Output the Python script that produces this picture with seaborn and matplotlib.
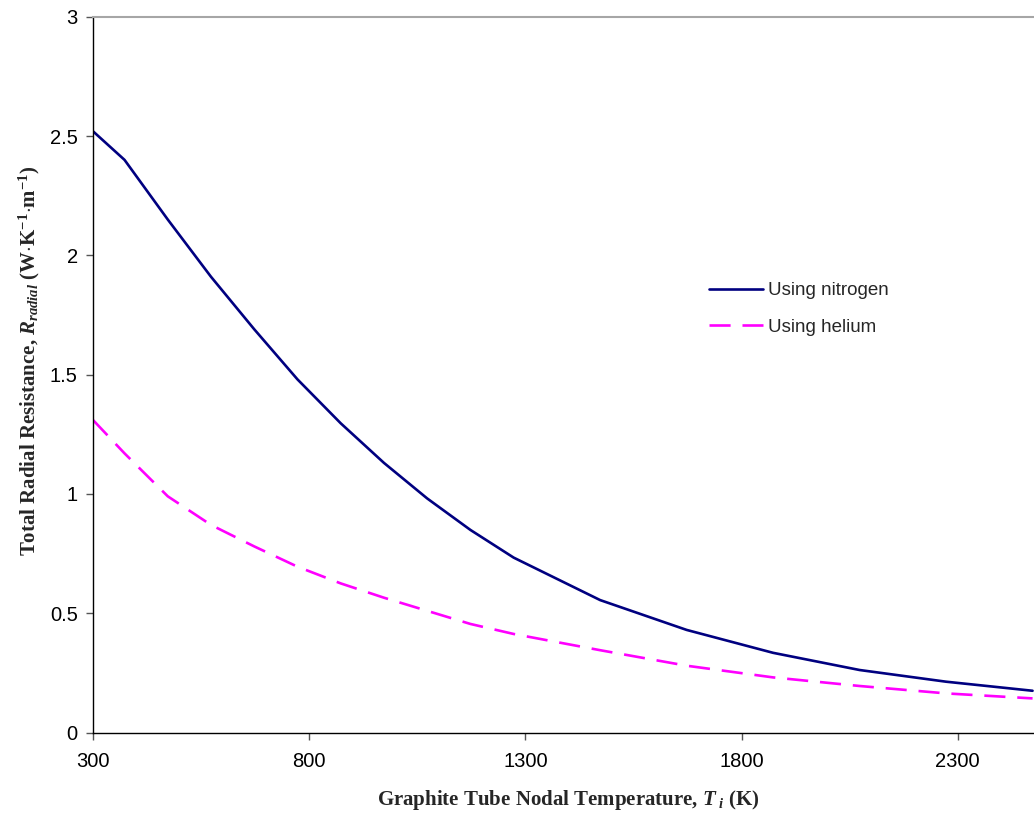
import matplotlib
matplotlib.use("Agg")
import matplotlib.pyplot as plt
import seaborn as sns
import pandas as pd

# Nodal temperatures (K) and total radial resistance for each purge gas
temperature_k = [300, 373, 473, 573, 673, 773, 873, 973, 1073, 1173, 1273,
                 1473, 1673, 1873, 2073, 2273, 2473]
r_nitrogen = [2.52, 2.40, 2.15, 1.91, 1.69, 1.48, 1.296, 1.13, 0.981, 0.849,
              0.733, 0.555, 0.43, 0.334, 0.262, 0.213, 0.175]
r_helium = [1.31, 1.17, 0.99, 0.87, 0.78, 0.695, 0.625, 0.565, 0.51, 0.455,
            0.413, 0.345, 0.28, 0.231, 0.195, 0.164, 0.143]

series_labels = ["Using nitrogen", "Using helium"]
x_ticks = [300, 800, 1300, 1800, 2300]
y_ticks = [0, 0.5, 1, 1.5, 2, 2.5, 3]
y_tick_labels = ["0", "0.5", "1", "1.5", "2", "2.5", "3"]

sns.set_theme(style="white")
plt.rcParams["font.family"] = ["Liberation Sans", "DejaVu Sans"]
plt.rcParams["mathtext.fontset"] = "custom"
plt.rcParams["mathtext.rm"] = "Liberation Serif:bold"
plt.rcParams["mathtext.it"] = "Liberation Serif:bold:italic"
plt.rcParams["mathtext.bf"] = "Liberation Serif:bold"

df = pd.DataFrame({
    "T": temperature_k * 2,
    "R": r_nitrogen + r_helium,
    "gas": [series_labels[0]] * len(temperature_k) + [series_labels[1]] * len(temperature_k),
})

fig = plt.figure(figsize=(10.34, 8.15), dpi=100)
ax = fig.add_axes([0.0899, 0.1012, 0.920, 0.8783])

sns.lineplot(data=df, x="T", y="R", hue="gas", style="gas",
             palette={series_labels[0]: "#000080", series_labels[1]: "#FF00FF"},
             dashes={series_labels[0]: "", series_labels[1]: (8, 4.5)},
             linewidth=1.9, ax=ax, legend=False)

ax.set_xlim(300, 2500)
ax.set_ylim(0, 3)
ax.set_xticks(x_ticks)
ax.set_yticks(y_ticks)
ax.set_yticklabels(y_tick_labels)

for side in ("left", "bottom"):
    ax.spines[side].set_color("black")
    ax.spines[side].set_linewidth(1.0)
for side in ("top", "right"):
    ax.spines[side].set_color("#A6A6A6")
    ax.spines[side].set_linewidth(1.5)

ax.tick_params(axis="both", which="major", direction="out", length=5,
               width=1.0, color="#555555", labelsize=14.5, labelcolor="black",
               bottom=True, left=True, top=False, right=False)
ax.tick_params(axis="y", pad=6)
ax.tick_params(axis="x", pad=9)

ax.set_xlabel(r"Graphite Tube Nodal Temperature, $T_{\ i}$ (K)",
              fontsize=15, family="Liberation Serif", fontweight="bold")
ax.set_ylabel(r"Total Radial Resistance, $R_{radial}$ (W$\cdot$K$^{-1}$$\cdot$m$^{-1}$)",
              fontsize=15, family="Liberation Serif", fontweight="bold")
ax.xaxis.set_label_coords(0.5, -0.077)
ax.yaxis.set_label_coords(-0.054, 0.52)

handles = ax.get_lines()[:2]
ax.legend(handles, series_labels, loc="upper left",
          bbox_to_anchor=(0.6857, 0.654), bbox_transform=fig.transFigure,
          frameon=False, fontsize=13.5, handlelength=2.9, handletextpad=0.27,
          labelspacing=1.05, borderpad=0, borderaxespad=0)

fig.savefig("out.png", dpi=100)
